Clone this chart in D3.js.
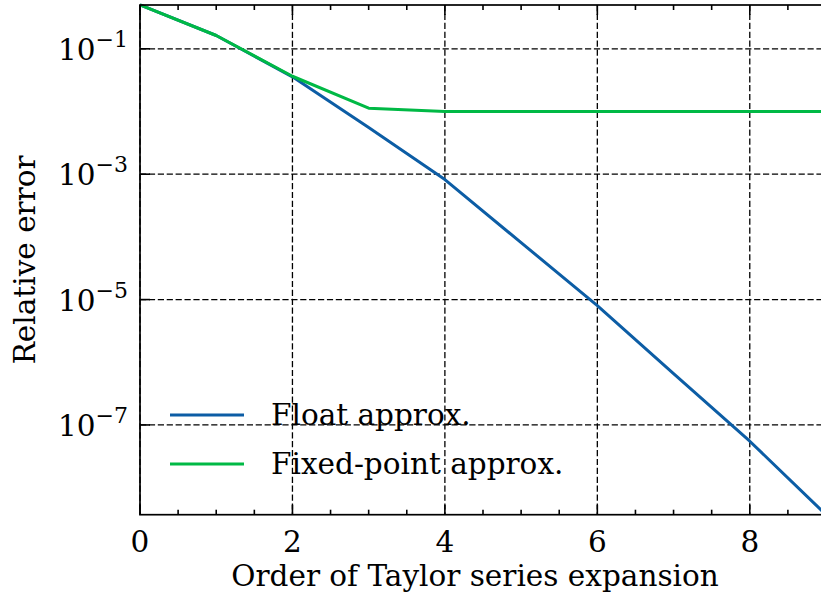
<!DOCTYPE html>
<html>
  <head>
    <meta charset="utf-8">
    <script src="https://d3js.org/d3.v7.min.js"></script>
    <style>
      body { margin: 0; background: #fff; }
      text { font-family: "DejaVu Serif", "Liberation Serif", serif; fill: #000; }
    </style>
  </head>
  <body>
    <script type="text/javascript">
      // order of the Taylor expansion
      var orders = [0, 1, 2, 3, 4, 5, 6, 7, 8, 9];
      // relative error
      var floatErr = [0.5, 0.163, 0.0357, 0.00555, 8.2e-4, 8.1e-5, 8.0e-6, 6.6e-7, 5.5e-8, 3.7e-9];
      var fixedErr = [0.5, 0.163, 0.0365, 0.0113, 0.0100, 0.0100, 0.0100, 0.0100, 0.0100, 0.0100];
      var seriesNames = ["Float approx.", "Fixed-point approx."];
      var colors = ["#0C5DA5", "#00B945"];
      var xTicks = [0, 2, 4, 6, 8];
      var yTickExps = [-1, -3, -5, -7];

      var W = 821, H = 606;
      var pLeft = 140, pTop = 5, pRight = 826, pBottom = 514.7;

      var svg = d3.select("body").append("svg")
          .attr("width", W)
          .attr("height", H);

      var x = d3.scaleLinear().domain([0, 9]).range([pLeft, pRight]);
      var allErr = floatErr.concat(fixedErr);
      var y = d3.scaleLog().domain([d3.min(allErr), d3.max(allErr)]).range([pBottom, pTop]);

      // grid
      var grid = svg.append("g")
          .attr("stroke", "#000")
          .attr("stroke-width", 1.3)
          .attr("stroke-dasharray", "6.2,2.7");
      grid.selectAll(".gx").data(xTicks).enter().append("line")
          .attr("x1", function (d) { return x(d); })
          .attr("x2", function (d) { return x(d); })
          .attr("y1", pTop).attr("y2", pBottom);
      grid.selectAll(".gy").data(yTickExps).enter().append("line")
          .attr("x1", pLeft).attr("x2", pRight)
          .attr("y1", function (d) { return y(Math.pow(10, d)); })
          .attr("y2", function (d) { return y(Math.pow(10, d)); });

      // series
      var line = d3.line()
          .x(function (d, i) { return x(orders[i]); })
          .y(function (d) { return y(d); });
      svg.append("clipPath").attr("id", "plotclip")
        .append("rect").attr("x", pLeft).attr("y", pTop - 2)
          .attr("width", pRight - pLeft).attr("height", pBottom - pTop + 4);
      [floatErr, fixedErr].forEach(function (s, k) {
          svg.append("path")
              .attr("d", line(s))
              .attr("fill", "none")
              .attr("stroke", colors[k])
              .attr("stroke-width", 3)
              .attr("stroke-linejoin", "round")
              .attr("clip-path", "url(#plotclip)");
      });

      // spines
      svg.append("rect")
          .attr("x", pLeft).attr("y", pTop)
          .attr("width", pRight - pLeft).attr("height", pBottom - pTop)
          .attr("fill", "none")
          .attr("stroke", "#000")
          .attr("stroke-width", 1.7);

      // ticks, pointing inward on bottom, top and left
      var ticks = svg.append("g").attr("stroke", "#000").attr("stroke-width", 1.6);
      var minorX = d3.range(0, 9.01, 0.5).filter(function (v) { return v % 2 !== 0; });
      [[xTicks, 10], [minorX, 5]].forEach(function (set) {
          set[0].forEach(function (v) {
              ticks.append("line").attr("x1", x(v)).attr("x2", x(v))
                  .attr("y1", pBottom).attr("y2", pBottom - set[1]);
              ticks.append("line").attr("x1", x(v)).attr("x2", x(v))
                  .attr("y1", pTop).attr("y2", pTop + set[1]);
          });
      });
      yTickExps.forEach(function (e) {
          ticks.append("line").attr("x1", pLeft).attr("x2", pLeft + 10)
              .attr("y1", y(Math.pow(10, e))).attr("y2", y(Math.pow(10, e)));
      });

      var fs = 29.5;
      // x tick labels
      svg.selectAll(".xl").data(xTicks).enter().append("text")
          .attr("x", function (d) { return x(d); })
          .attr("y", 552)
          .attr("text-anchor", "middle")
          .style("font-size", fs + "px")
          .text(function (d) { return d; });

      // y tick labels 10^e
      yTickExps.forEach(function (e) {
          var t = svg.append("text")
              .attr("x", 128)
              .attr("y", y(Math.pow(10, e)) + 11)
              .attr("text-anchor", "end")
              .style("font-size", fs + "px");
          t.append("tspan").text("10");
          t.append("tspan").attr("dy", -13).style("font-size", "22px").text("\u2212" + Math.abs(e));
      });

      // axis labels
      svg.append("text")
          .attr("x", (pLeft + pRight) / 2 - 8)
          .attr("y", 586)
          .attr("text-anchor", "middle")
          .style("font-size", fs + "px")
          .text("Order of Taylor series expansion");
      svg.append("text")
          .attr("transform", "translate(35," + ((pTop + pBottom) / 2) + ") rotate(-90)")
          .attr("text-anchor", "middle")
          .style("font-size", fs + "px")
          .text("Relative error");

      // legend
      var leg = svg.append("g");
      seriesNames.forEach(function (name, k) {
          var ly = 415 + k * 49;
          leg.append("line")
              .attr("x1", 170).attr("x2", 244)
              .attr("y1", ly).attr("y2", ly)
              .attr("stroke", colors[k])
              .attr("stroke-width", 3);
          leg.append("text")
              .attr("x", 271)
              .attr("y", ly + 10)
              .style("font-size", fs + "px")
              .text(name);
      });
    </script>
  </body>
</html>
